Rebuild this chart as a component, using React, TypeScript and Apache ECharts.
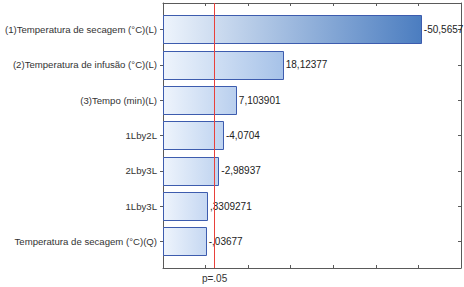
import React, { useEffect, useRef } from "react";
import * as echarts from "echarts";

const categories = [
  "(1)Temperatura de secagem (°C)(L)",
  "(2)Temperatura de infusão (°C)(L)",
  "(3)Tempo (min)(L)",
  "1Lby2L",
  "2Lby3L",
  "1Lby3L",
  "Temperatura de secagem (°C)(Q)",
];
const effects = [-50.5657, 18.12377, 7.103901, -4.0704, -2.98937, 0.3309271, -0.03677];
const effectLabels = ["-50,5657", "18,12377", "7,103901", "-4,0704", "-2,98937", ",3309271", "-,03677"];
const pCritical = 2.11;
const pLabel = "p=.05";
const xMin = -10;
const xMax = 60;
const xStep = 10;
const yMin = 0.25;
const yMax = 7.75;

const FONT = '"Liberation Sans", Arial, sans-serif';
const CAT_FONT_SIZE = 9.6;
const FONT_SIZE = 10;
const AXIS_COLOR = "#5a5a5a";

const endStops: [number, number[]][] = [
  [0.14, [198, 216, 242]],
  [0.4, [166, 194, 232]],
  [0.87, [74, 124, 192]],
];

function endColor(f: number): string {
  let c = endStops[0][1];
  if (f >= endStops[endStops.length - 1][0]) c = endStops[endStops.length - 1][1];
  else if (f > endStops[0][0]) {
    for (let i = 0; i < endStops.length - 1; i++) {
      const [a, ca] = endStops[i];
      const [b, cb] = endStops[i + 1];
      if (f >= a && f <= b) {
        const t = (f - a) / (b - a);
        c = ca.map((v, k) => Math.round(v + (cb[k] - v) * t));
        break;
      }
    }
  }
  return `rgb(${c[0]},${c[1]},${c[2]})`;
}

export default function App() {
  const ref = useRef<HTMLDivElement>(null);
  useEffect(() => {
    if (!ref.current) return;
    const chart = echarts.init(ref.current, undefined, { renderer: "svg" });
    const positions = categories.map((_, i) => i + 1);
    const data = effects.map((v, i) => [Math.abs(v), i + 1, i]);

    const xAxisBase = {
      type: "value",
      min: xMin,
      max: xMax,
      interval: xStep,
      splitLine: { show: false },
      axisLine: { show: true, onZero: false, lineStyle: { color: AXIS_COLOR, width: 1 } },
      axisTick: { show: true, inside: true, length: 3, lineStyle: { color: AXIS_COLOR } },
    };
    const yAxisBase = {
      type: "value",
      min: yMin,
      max: yMax,
      inverse: true,
      splitLine: { show: false },
      axisLine: { show: true, onZero: false, lineStyle: { color: AXIS_COLOR, width: 1 } },
    };

    chart.setOption({
      animation: false,
      backgroundColor: "#ffffff",
      grid: { left: 163, right: 3, top: 3, bottom: 19, containLabel: false, outerBoundsMode: "none" },
      xAxis: [
        {
          ...xAxisBase,
          position: "bottom",
          axisLabel: {
            show: true,
            customValues: [pCritical],
            formatter: () => pLabel,
            margin: 5,
            fontSize: FONT_SIZE,
            fontFamily: FONT,
            color: "#333",
          },
        },
        { ...xAxisBase, position: "top", axisLabel: { show: false } },
      ],
      yAxis: [
        {
          ...yAxisBase,
          position: "left",
          axisTick: { show: true, inside: false, length: 3, customValues: positions, lineStyle: { color: AXIS_COLOR } },
          axisLabel: {
            show: true,
            customValues: positions,
            formatter: (v: number) => categories[Math.round(v) - 1] ?? "",
            margin: 6,
            fontSize: CAT_FONT_SIZE,
            fontFamily: FONT,
            color: "#333",
          },
        },
        {
          ...yAxisBase,
          position: "right",
          axisTick: { show: true, inside: true, length: 3, customValues: positions, lineStyle: { color: AXIS_COLOR } },
          axisLabel: { show: false },
        },
      ],
      series: [
        {
          type: "custom",
          xAxisIndex: 0,
          yAxisIndex: 0,
          data,
          encode: { x: 0, y: 1 },
          z: 2,
          renderItem: (params: any, api: any) => {
            const val = api.value(0);
            const pos = api.value(1);
            const idx = api.value(2);
            const start = api.coord([xMin, pos]);
            const end = api.coord([val, pos]);
            const right = api.coord([xMax, pos]);
            const h = api.size([0, 1])[1] * 0.8;
            const f = (end[0] - start[0]) / (right[0] - start[0]);
            const y0 = Math.round(end[1] - h / 2) + 0.5;
            const x0 = Math.round(start[0]) + 0.5;
            const x1 = Math.round(end[0]) + 0.5;
            return {
              type: "group",
              children: [
                {
                  type: "rect",
                  shape: { x: x0, y: y0, width: x1 - x0, height: Math.round(h) },
                  style: {
                    fill: new echarts.graphic.LinearGradient(0, 0, 1, 0, [
                      { offset: 0, color: "#eef4fc" },
                      { offset: 1, color: endColor(f) },
                    ]),
                    stroke: "#3d5cae",
                    lineWidth: 1,
                  },
                },
                {
                  type: "text",
                  x: end[0] + 3,
                  y: end[1],
                  style: {
                    text: effectLabels[idx],
                    fill: "#222",
                    fontSize: FONT_SIZE,
                    fontFamily: FONT,
                    align: "left",
                    verticalAlign: "middle",
                  },
                },
              ],
            };
          },
        },
        {
          type: "line",
          xAxisIndex: 0,
          yAxisIndex: 0,
          data: [],
          z: 10,
          markLine: {
            silent: true,
            symbol: "none",
            label: { show: false },
            lineStyle: { color: "#e8413b", width: 1, type: "solid" },
            data: [{ xAxis: pCritical }],
          },
        },
      ],
    });
    return () => chart.dispose();
  }, []);
  return (
    <div
      ref={ref}
      style={{ position: "fixed", left: 0, top: 0, width: 464, height: 287, background: "#fff" }}
    />
  );
}
